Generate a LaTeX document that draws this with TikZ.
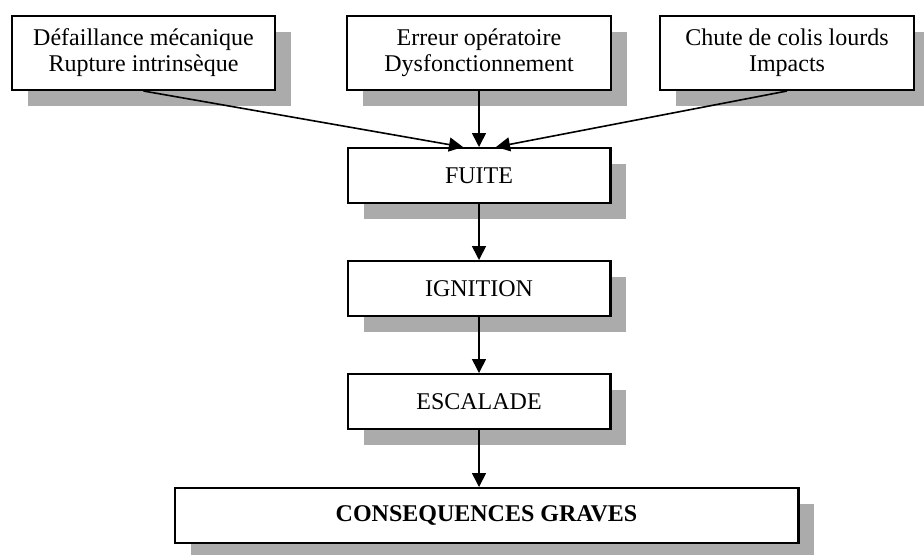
\documentclass[tikz,border=0pt]{standalone}
\usepackage{fontspec}
\setmainfont{Liberation Serif}
\usepackage{tikz}
\usetikzlibrary{positioning,shadows,arrows.meta}

\begin{document}
\begin{tikzpicture}[
    x=0.5pt, y=-0.5pt,
    node distance=28pt,
    cause/.style={rectangle, draw, line width=1.1pt, fill=white, minimum height=36.9pt, align=center, inner sep=2pt, font=\fontsize{12}{13}\selectfont, drop shadow={shadow xshift=8pt, shadow yshift=-8pt, fill=black!33, opacity=1}},
    stage/.style={rectangle, draw, line width=1.1pt, fill=white, minimum width=131.4pt, minimum height=27.4pt, align=center, font=\fontsize{12}{13}\selectfont, drop shadow={shadow xshift=8pt, shadow yshift=-8pt, fill=black!33, opacity=1}},
    arrow/.style={-{Triangle[length=7pt, width=7pt]}, line width=0.8pt}
]
\useasboundingbox (0,0) rectangle (924,554);

% Causes
\node[cause, minimum width=131.9pt] (erreur) at (479,53) {Erreur opératoire\\Dysfonctionnement};
\node[cause, minimum width=131.4pt, left=35pt of erreur] (defaillance) {Défaillance mécanique\\Rupture intrinsèque};
\node[cause, minimum width=126.9pt, right=23.5pt of erreur] (chute) {Chute de colis lourds\\Impacts};

% Chain of events
\node[stage, below=of erreur] (fuite) {FUITE};
\node[stage, below=of fuite] (ignition) {IGNITION};
\node[stage, below=of ignition] (escalade) {ESCALADE};
\node[stage, below=28.5pt of escalade, xshift=3.75pt, minimum width=311.9pt, font=\fontsize{12}{13}\selectfont\bfseries] (consequences) {CONSEQUENCES GRAVES};

% Flows
\draw[arrow] (defaillance.south) -- ([xshift=-8pt]fuite.north);
\draw[arrow] (erreur) -- (fuite);
\draw[arrow] (chute.south) -- ([xshift=8.5pt]fuite.north);
\draw[arrow] (fuite) -- (ignition);
\draw[arrow] (ignition) -- (escalade);
\draw[arrow] (escalade) -- (escalade |- consequences.north);

\end{tikzpicture}
\end{document}
